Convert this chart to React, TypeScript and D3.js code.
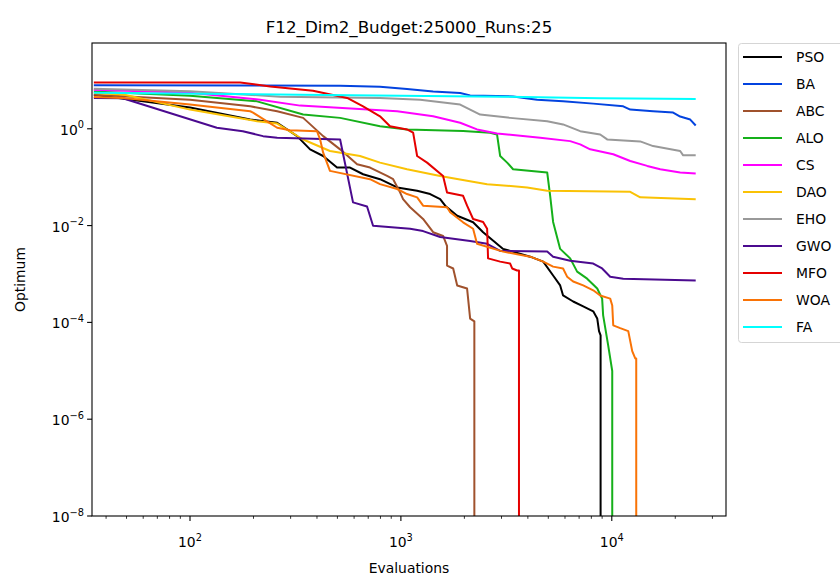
import React from 'react';
import * as d3 from 'd3';

const chartTitle = 'F12_Dim2_Budget:25000_Runs:25';
const xLabel = 'Evaluations';
const yLabel = 'Optimum';
const seriesNames = ['PSO', 'BA', 'ABC', 'ALO', 'CS', 'DAO', 'EHO', 'GWO', 'MFO', 'WOA', 'FA'];
const seriesColors = ['#000000', '#0343df', '#a0522d', '#15b01a', '#ff00ff', '#fac205', '#999999', '#4b0a8f', '#e50000', '#f97306', '#00ffff'];

const xMajorTicks = [100, 1000, 10000];
const xMajorExps = ['2', '3', '4'];
const yMajorTicks = [1, 1e-2, 1e-4, 1e-6, 1e-8];
const yMajorExps = ['0', '−2', '−4', '−6', '−8'];

const psoEvals = [35, 100, 193, 259, 322, 371, 428, 498, 574, 662, 796, 960, 1194, 1376, 1535, 1622, 1849, 2200, 2454, 3053, 4102, 4730, 5270, 5692, 5875, 6560, 7320, 8166, 8530, 8700, 8850, 8850];
const psoValues = [5.06, 2.74, 1.55, 1.33, 0.705, 0.376, 0.274, 0.158, 0.158, 0.115, 0.091, 0.0615, 0.0524, 0.0448, 0.0353, 0.0258, 0.016, 0.0117, 0.0073, 0.0033, 0.00228, 0.0018, 0.00093, 0.00058, 0.00036, 0.00027, 0.000214, 0.000169, 0.000121, 0.000066, 0.000054, 0];

const baEvals = [35, 515, 796, 1069, 1422, 1910, 2130, 3404, 4426, 5875, 8166, 11330, 12230, 15700, 19540, 21100, 23550, 25000];
const baValues = [7.9, 7.75, 7.39, 6.63, 5.92, 5.49, 4.9, 4.67, 4.0, 3.69, 3.31, 2.91, 2.49, 2.3, 2.16, 1.79, 1.55, 1.17];

const abcEvals = [35, 100, 193, 259, 344, 428, 515, 620, 714, 860, 919, 991, 1024, 1106, 1274, 1422, 1585, 1655, 1655, 1770, 1849, 2060, 2130, 2230, 2230];
const abcValues = [5.06, 4.0, 2.91, 2.3, 1.68, 0.705, 0.376, 0.185, 0.158, 0.106, 0.091, 0.0485, 0.0353, 0.0239, 0.0137, 0.0073, 0.0061, 0.0038, 0.00149, 0.0013, 0.00058, 0.0005, 0.00012, 0.000105, 0];

const aloEvals = [35, 100, 208, 344, 515, 796, 1069, 1972, 2650, 2858, 2956, 3190, 3404, 4940, 5103, 5270, 5692, 6349, 6850, 7640, 8530, 9000, 9100, 9610, 10050, 10050];
const aloValues = [5.92, 4.83, 3.69, 1.97, 1.68, 1.13, 0.97, 0.9, 0.83, 0.76, 0.274, 0.2, 0.146, 0.125, 0.0413, 0.0119, 0.0033, 0.0021, 0.00112, 0.0008, 0.0005, 0.00031, 0.00014, 0.000034, 0.0000099, 0];

const csEvals = [35, 100, 215, 333, 960, 1422, 1910, 2296, 2858, 4575, 6349, 7082, 7899, 10160, 12230, 14720, 16970, 21100, 25000];
const csValues = [6.41, 5.56, 4.0, 3.01, 2.3, 1.81, 1.33, 0.97, 0.8, 0.653, 0.556, 0.476, 0.376, 0.297, 0.216, 0.171, 0.146, 0.125, 0.119];

const daoEvals = [35, 49, 100, 208, 259, 344, 461, 640, 796, 1069, 1535, 2060, 2564, 3970, 4940, 12230, 13640, 25000];
const daoValues = [5.49, 5.06, 2.49, 1.43, 1.28, 0.6, 0.347, 0.274, 0.2, 0.146, 0.106, 0.084, 0.0718, 0.0615, 0.0524, 0.0499, 0.0383, 0.0352];

const ehoEvals = [35, 100, 267, 796, 1234, 1910, 2130, 2376, 3297, 4940, 5875, 7082, 8811, 9510, 13640, 15700, 21100, 21800, 25000];
const ehoValues = [6.72, 5.97, 4.61, 4.33, 4.0, 3.16, 2.49, 1.97, 1.68, 1.43, 1.23, 0.893, 0.764, 0.603, 0.549, 0.439, 0.347, 0.283, 0.283];

const gwoEvals = [35, 48, 134, 178, 222, 259, 515, 593, 691, 738, 1106, 1274, 1535, 2130, 2564, 2956, 4940, 5270, 6349, 8166, 9000, 9828, 11330, 25000];
const gwoValues = [4.33, 4.29, 1.05, 0.893, 0.705, 0.653, 0.6, 0.0302, 0.0248, 0.0099, 0.0086, 0.0077, 0.0058, 0.0048, 0.0042, 0.003, 0.0029, 0.00228, 0.00188, 0.00164, 0.0013, 0.00088, 0.0008, 0.00073];

const mfoEvals = [35, 173, 240, 383, 556, 662, 796, 888, 1069, 1143, 1194, 1331, 1585, 1655, 1972, 2060, 2200, 2454, 2564, 2590, 2956, 3297, 3370, 3557, 3630, 3630];
const mfoValues = [9.06, 9.06, 7.5, 6.11, 4.33, 2.91, 1.81, 1.13, 0.97, 0.83, 0.274, 0.2, 0.106, 0.0485, 0.0413, 0.0258, 0.0137, 0.0119, 0.0086, 0.0021, 0.0018, 0.00164, 0.0013, 0.00118, 0.00118, 0];

const woaEvals = [35, 48, 100, 193, 199, 259, 298, 400, 414, 428, 461, 714, 796, 960, 1069, 1194, 1274, 1655, 1712, 1972, 2200, 2296, 3053, 4102, 4730, 5270, 5875, 6140, 6560, 7320, 8166, 8811, 9828, 10050, 10160, 10963, 11970, 12500, 12920, 13060, 13060];
const woaValues = [4.54, 4.33, 3.16, 2.3, 2.16, 1.05, 0.936, 0.893, 0.6, 0.321, 0.135, 0.091, 0.0718, 0.057, 0.0448, 0.0383, 0.0258, 0.0239, 0.0188, 0.0117, 0.0086, 0.0042, 0.0029, 0.00228, 0.0018, 0.00142, 0.0013, 0.00088, 0.0007, 0.00058, 0.00046, 0.00036, 0.00031, 0.000224, 0.000087, 0.000076, 0.000066, 0.0000255, 0.000018, 0.000018, 0];

const faEvals = [35, 112, 333, 1000, 3000, 8800, 25000];
const faValues = [5.56, 5.31, 5.06, 4.83, 4.61, 4.29, 4.13];

const allEvals = [psoEvals, baEvals, abcEvals, aloEvals, csEvals, daoEvals, ehoEvals, gwoEvals, mfoEvals, woaEvals, faEvals];
const allValues = [psoValues, baValues, abcValues, aloValues, csValues, daoValues, ehoValues, gwoValues, mfoValues, woaValues, faValues];

const W = 840;
const H = 576;
const L = 92;
const R = 726;
const T = 43;
const B = 516;
const FONT = 'DejaVu Sans, sans-serif';

export default function App() {
  const x = d3.scaleLog().domain([34.3, 34800]).range([L, R]);
  const y = d3.scaleLog().domain([1e-8, 59.2]).range([B, T]);
  const line = d3
    .line<[number, number]>()
    .x((d) => x(d[0]))
    .y((d) => y(Math.max(d[1], 1e-40)));

  const minorX = x
    .ticks()
    .filter((v) => Math.abs(Math.log10(v) - Math.round(Math.log10(v))) > 1e-6);

  const legendRowH = 27;
  const legendTop = 57;

  return (
    <div style={{ position: 'absolute', left: 0, top: 0, width: W, height: H }}>
      <svg width={W} height={H} style={{ display: 'block', background: '#fff' }} fontFamily={FONT}>
        <defs>
          <clipPath id="plotclip">
            <rect x={L} y={T} width={R - L} height={B - T} />
          </clipPath>
        </defs>
        <rect x={0} y={0} width={W} height={H} fill="#fff" />
        <g clipPath="url(#plotclip)">
          {seriesNames.map((name, i) => {
            const pts: [number, number][] = allEvals[i].map((e, k) => [e, allValues[i][k]]);
            return (
              <path
                key={name}
                d={line(pts) || ''}
                fill="none"
                stroke={seriesColors[i]}
                strokeWidth={2}
                strokeLinejoin="round"
              />
            );
          })}
        </g>
        {/* spines */}
        <rect x={L} y={T} width={R - L} height={B - T} fill="none" stroke="#000" strokeWidth={1.1} />
        {/* x ticks */}
        {minorX.map((v) => (
          <line key={'mx' + v} x1={x(v)} x2={x(v)} y1={B} y2={B + 2.8} stroke="#000" strokeWidth={0.8} />
        ))}
        {xMajorTicks.map((v, i) => (
          <g key={'x' + v}>
            <line x1={x(v)} x2={x(v)} y1={B} y2={B + 4.9} stroke="#000" strokeWidth={1.1} />
            <text x={x(v)} y={547} textAnchor="middle" fontSize={13.9} fill="#000">
              10
              <tspan fontSize={9.8} dy={-6.5}>
                {xMajorExps[i]}
              </tspan>
            </text>
          </g>
        ))}
        {/* y ticks */}
        {yMajorTicks.map((v, i) => (
          <g key={'y' + v}>
            <line x1={L - 4.9} x2={L} y1={y(v)} y2={y(v)} stroke="#000" strokeWidth={1.1} />
            <text x={L - 8} y={y(v) + 6} textAnchor="end" fontSize={13.9} fill="#000">
              10
              <tspan fontSize={9.8} dy={-6.5}>
                {yMajorExps[i]}
              </tspan>
            </text>
          </g>
        ))}
        {/* title and labels */}
        <text x={(L + R) / 2} y={33} textAnchor="middle" fontSize={16.7} fill="#000">
          {chartTitle}
        </text>
        <text x={(L + R) / 2} y={573} textAnchor="middle" fontSize={13.9} fill="#000">
          {xLabel}
        </text>
        <text
          transform={`translate(25, ${(T + B) / 2}) rotate(-90)`}
          textAnchor="middle"
          fontSize={13.9}
          fill="#000"
        >
          {yLabel}
        </text>
        {/* legend */}
        <rect x={738.5} y={43.5} width={120} height={299} rx={3} fill="#fff" fillOpacity={0.8} stroke="#d5d5d5" strokeWidth={1} />
        {seriesNames.map((name, i) => {
          const cy = legendTop + i * legendRowH;
          return (
            <g key={'lg' + name}>
              <line x1={743} x2={782} y1={cy} y2={cy} stroke={seriesColors[i]} strokeWidth={2} />
              <text x={796} y={cy + 5} fontSize={13.9} fill="#000">
                {name}
              </text>
            </g>
          );
        })}
      </svg>
    </div>
  );
}
